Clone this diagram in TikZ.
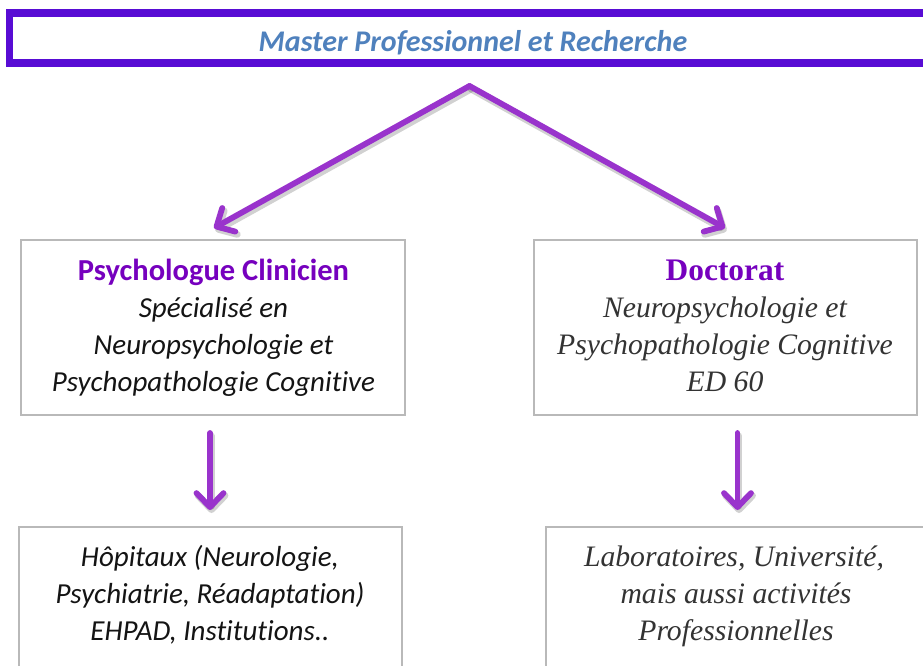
\documentclass[tikz,border=0pt]{standalone}
\usepackage{fontspec}
\setmainfont{Carlito}[Ligatures=NoCommon]
\newfontfamily\serifcam{Liberation Serif}
\usetikzlibrary{arrows.meta}
\definecolor{barpurple}{RGB}{88,12,212}
\definecolor{titleblue}{RGB}{79,129,189}
\definecolor{arrowpurple}{RGB}{153,51,204}
\definecolor{headpurple}{RGB}{118,0,190}
\definecolor{boxgray}{RGB}{185,185,185}
\definecolor{textgray}{RGB}{51,51,51}
\tikzset{
  boxnode/.style={draw=boxgray, line width=2pt, inner sep=0pt, fill=white},
  lefttxt/.style={anchor=base, inner sep=0pt, font=\fontsize{29}{37}\selectfont\itshape, text=black!92},
  lefthead/.style={anchor=base, inner sep=0pt, font=\fontsize{30.5}{37}\selectfont\bfseries, text=headpurple},
  righttxt/.style={anchor=base, inner sep=0pt, font=\serifcam\fontsize{29.7}{37}\selectfont\itshape, text=textgray},
  righthead/.style={anchor=base, inner sep=0pt, font=\serifcam\fontsize{31.4}{37}\selectfont\bfseries, text=headpurple},
  flowarrow/.style={draw=arrowpurple, line width=5.8pt, line cap=round, line join=round,
     -{Straight Barb[length=14pt,width=27pt,round]}},
  arrowshadow/.style={draw=black, opacity=0.18, line width=6.8pt, line cap=round, line join=round,
     -{Straight Barb[length=14pt,width=27pt,round]}, transform canvas={shift={(1.5pt,-3pt)}}}
}
\begin{document}
\begin{tikzpicture}[x=1pt,y=-1pt]
\useasboundingbox (0,0) rectangle (923,666);
\clip (0,0) rectangle (923,666);
\fill[white] (0,0) rectangle (923,666);

% top bar
\node[draw=barpurple, line width=7.6pt, inner sep=0pt, minimum width=925.5pt, minimum height=50.5pt] (master) at (472.25,38.05) {};
\node[anchor=base, inner sep=0pt, font=\fontsize{30}{34}\selectfont\bfseries\itshape, text=titleblue] (mastertext) at (473,52) {Master Professionnel et Recherche};

% boxes
\node[boxnode, minimum width=384pt, minimum height=175pt] (clin) at (213,327.5) {};
\node[boxnode, minimum width=382.5pt, minimum height=175pt] (doct) at (725.5,327.5) {};
\node[boxnode, minimum width=383pt, minimum height=173pt] (hosp) at (210.5,613.5) {};
\node[boxnode, minimum width=389pt, minimum height=173pt] (labo) at (740.5,613.5) {};

% texts
\node[lefthead] (clin1) at (213.5,280) {Psychologue Clinicien};
\node[lefttxt] (clin2) at (213.5,317) {Spécialisé en};
\node[lefttxt] (clin3) at (213.5,354) {Neuropsychologie et};
\node[lefttxt] (clin4) at (213.5,391) {Psychopathologie Cognitive};

\node[righthead] (doct1) at (725,280) {Doctorat};
\node[righttxt] (doct2) at (725,317) {Neuropsychologie et};
\node[righttxt] (doct3) at (725,354) {Psychopathologie Cognitive};
\node[righttxt] (doct4) at (725,391.5) {ED 60};

\node[lefttxt] (hosp1) at (210,566.5) {Hôpitaux (Neurologie,};
\node[lefttxt] (hosp2) at (210,603.5) {Psychiatrie, Réadaptation)};
\node[lefttxt] (hosp3) at (210,640.5) {EHPAD, Institutions..};

\node[righttxt] (labo1) at (734,566.5) {Laboratoires, Université,};
\node[righttxt] (labo2) at (736,603.5) {mais aussi activités};
\node[righttxt] (labo3) at (736,640.5) {Professionnelles};

% connector end points
\coordinate (apex) at (469.5,86);
\coordinate (ltip) at (214,228);
\coordinate (rtip) at (725,228);
\coordinate (cl1) at (210,433);
\coordinate (cl2) at (210,510);
\coordinate (dl1) at (737.5,433);
\coordinate (dl2) at (737.5,510);

% shadows
\draw[arrowshadow] (apex) -- (ltip);
\draw[arrowshadow] (apex) -- (rtip);
\draw[arrowshadow] (cl1) -- (cl2);
\draw[arrowshadow] (dl1) -- (dl2);
% arrows
\draw[flowarrow] (apex) -- (ltip);
\draw[flowarrow] (apex) -- (rtip);
\draw[flowarrow] (cl1) -- (cl2);
\draw[flowarrow] (dl1) -- (dl2);
\end{tikzpicture}
\end{document}
